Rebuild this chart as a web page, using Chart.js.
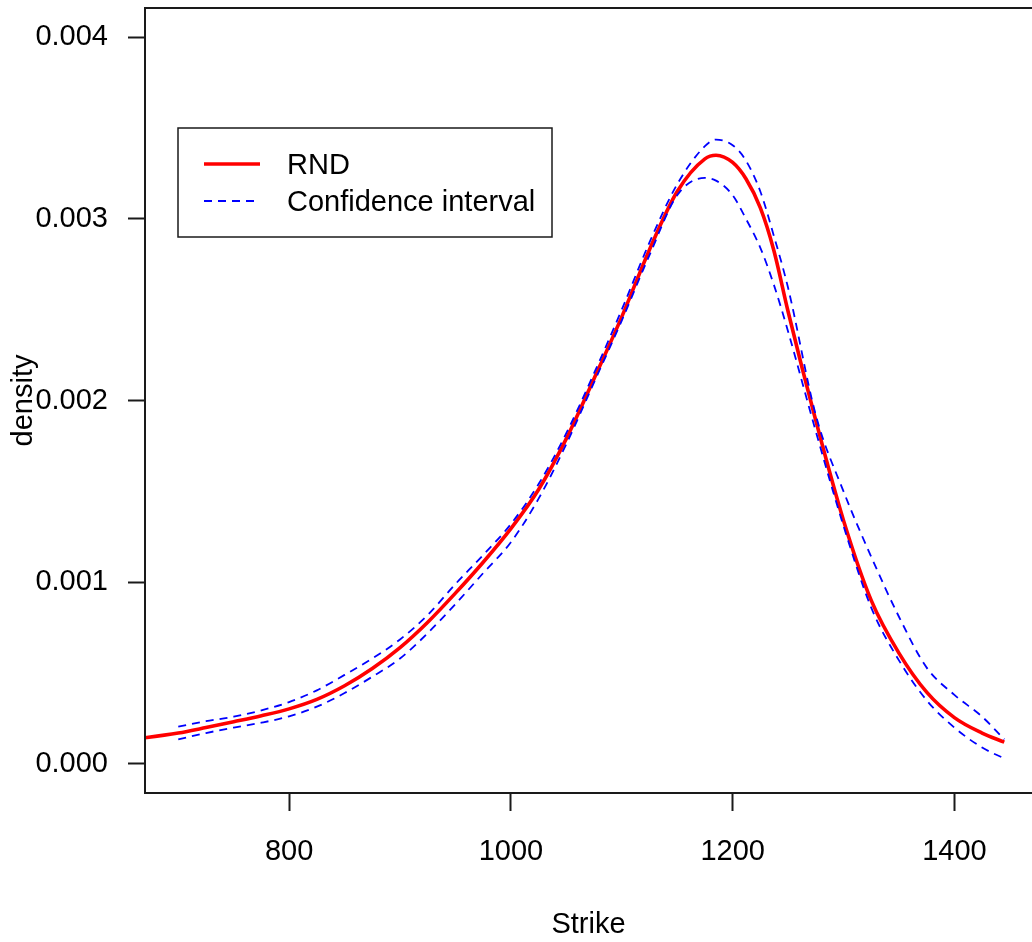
<!DOCTYPE html>
<html>
<head>
<meta charset="utf-8">
<title>RND</title>
<script src="https://cdn.jsdelivr.net/npm/chart.js@4.4.1/dist/chart.umd.min.js"></script>
<style>
  html, body { margin: 0; padding: 0; background: #fff; overflow: hidden; }
  canvas { display: block; }
</style>
</head>
<body>
<canvas id="jsDensityCanvas" width="1032" height="942"></canvas>
<script>
// strike grid and estimated densities
const strikes = [650, 700, 725, 750, 775, 800, 825, 850, 875, 900, 925, 950, 975, 1000, 1025, 1050, 1075, 1100, 1125, 1150, 1175, 1185, 1200, 1212, 1225, 1237, 1250, 1275, 1300, 1325, 1350, 1375, 1400, 1425, 1445];
const rnd = [0.000128, 0.00017, 0.0002, 0.000232, 0.000265, 0.000303, 0.000355, 0.00043, 0.000525, 0.00064, 0.00078, 0.00094, 0.00111, 0.001295, 0.00151, 0.00179, 0.00212, 0.00246, 0.00283, 0.00315, 0.00333, 0.00335, 0.00331, 0.00322, 0.00306, 0.00283, 0.00249, 0.00189, 0.00134, 0.0009, 0.00061, 0.000395, 0.000255, 0.00017, 0.00012];
const ciUpper = [null, 0.000205, 0.000235, 0.00026, 0.000295, 0.00034, 0.000405, 0.00049, 0.00058, 0.000685, 0.00082, 0.00099, 0.00115, 0.00132, 0.00154, 0.00182, 0.00215, 0.0025, 0.00287, 0.00319, 0.0034, 0.003436, 0.003405, 0.00332, 0.00315, 0.00291, 0.00262, 0.00192, 0.0015, 0.00114, 0.00081, 0.00053, 0.00038, 0.00026, 0.000135];
const ciLower = [null, 0.000135, 0.00017, 0.0002, 0.000227, 0.000262, 0.000315, 0.00039, 0.00048, 0.00058, 0.00072, 0.00088, 0.00105, 0.00122, 0.00146, 0.00176, 0.0021, 0.00244, 0.0028, 0.00313, 0.003225, 0.00321, 0.00313, 0.003, 0.00284, 0.00264, 0.00238, 0.00183, 0.00131, 0.00086, 0.00057, 0.00035, 0.0002, 0.00009, 0.00003];

const xTicks = [800, 1000, 1200, 1400];
const yTicks = [0, 0.001, 0.002, 0.003, 0.004];
const legendLabels = ["RND", "Confidence interval"];

const FONT = "'Liberation Sans', Arial, sans-serif";
const toPoints = (ys) => strikes.map((x, i) => ({ x: x, y: ys[i] }));

// frame around the plot region (right side runs off the canvas)
const frameBox = {
  id: "frameBox",
  afterDatasetsDraw(chart) {
    const { ctx, chartArea: a } = chart;
    ctx.save();
    ctx.strokeStyle = "#1a1a1a";
    ctx.lineWidth = 2;
    ctx.beginPath();
    ctx.moveTo(chart.width, a.top);
    ctx.lineTo(a.left, a.top);
    ctx.lineTo(a.left, a.bottom);
    ctx.lineTo(chart.width, a.bottom);
    ctx.stroke();
    ctx.restore();
  },
};

// boxed legend in the upper left of the plot
const boxLegend = {
  id: "boxLegend",
  afterDraw(chart) {
    const { ctx, chartArea: a } = chart;
    const red = chart.data.datasets[2];
    const blue = chart.data.datasets[0];
    const x0 = a.left + 33;
    const y0 = a.top + 120;
    ctx.save();
    ctx.fillStyle = "#fff";
    ctx.fillRect(x0, y0, 374, 109);
    ctx.strokeStyle = "#1a1a1a";
    ctx.lineWidth = 1.5;
    ctx.strokeRect(x0, y0, 374, 109);

    const rows = [
      { ds: red, y: y0 + 36 },
      { ds: blue, y: y0 + 73 },
    ];
    rows.forEach((row, i) => {
      ctx.strokeStyle = row.ds.borderColor;
      ctx.lineWidth = row.ds.borderWidth;
      ctx.setLineDash(row.ds.borderDash || []);
      ctx.beginPath();
      ctx.moveTo(x0 + 26, row.y);
      ctx.lineTo(x0 + 82, row.y);
      ctx.stroke();
      ctx.setLineDash([]);
      ctx.fillStyle = "#000";
      ctx.font = "29px " + FONT;
      ctx.textBaseline = "middle";
      ctx.textAlign = "left";
      ctx.fillText(legendLabels[i], x0 + 109, row.y + 2);
    });
    ctx.restore();
  },
};

const densityChart = () => {
  const canvas = document.getElementById("jsDensityCanvas").getContext("2d");

  new Chart(canvas, {
    type: "line",
    data: {
      datasets: [
        {
          label: "Upper",
          data: toPoints(ciUpper),
          borderColor: "#0000ff",
          borderWidth: 1.8,
          borderDash: [8, 6],
          pointRadius: 0,
          cubicInterpolationMode: "monotone",
          fill: false,
        },
        {
          label: "Lower",
          data: toPoints(ciLower),
          borderColor: "#0000ff",
          borderWidth: 1.8,
          borderDash: [8, 6],
          pointRadius: 0,
          cubicInterpolationMode: "monotone",
          fill: false,
        },
        {
          label: "RND",
          data: toPoints(rnd),
          borderColor: "#ff0000",
          borderWidth: 3.6,
          pointRadius: 0,
          cubicInterpolationMode: "monotone",
          clip: 0,
          fill: false,
        },
      ],
    },
    options: {
      responsive: false,
      animation: false,
      devicePixelRatio: 1,
      layout: {
        padding: { top: 8, left: 0, right: 0, bottom: 0 },
      },
      plugins: {
        legend: { display: false },
        tooltip: { enabled: false },
      },
      scales: {
        x: {
          type: "linear",
          min: 670,
          max: 1470,
          afterBuildTicks: (scale) => {
            scale.ticks = xTicks.map((v) => ({ value: v }));
          },
          afterFit: (scale) => {
            scale.height = 149;
            scale.paddingLeft = 0;
            scale.paddingRight = 0;
          },
          border: { display: false },
          grid: {
            drawOnChartArea: false,
            drawTicks: true,
            tickLength: 18,
            tickWidth: 2,
            tickColor: "#1a1a1a",
          },
          ticks: {
            color: "#000",
            padding: 24,
            maxRotation: 0,
            font: { family: FONT, size: 29, lineHeight: 1.2 },
            callback: (value) => String(value),
          },
          title: {
            display: true,
            text: "Strike",
            color: "#000",
            padding: { top: 0, bottom: 0 },
            font: { family: FONT, size: 29, lineHeight: 1.2 },
          },
        },
        y: {
          type: "linear",
          min: -0.00016,
          max: 0.00416,
          afterBuildTicks: (scale) => {
            scale.ticks = yTicks.map((v) => ({ value: v }));
          },
          afterFit: (scale) => {
            scale.width = 145;
            scale.paddingTop = 0;
            scale.paddingBottom = 0;
          },
          border: { display: false },
          grid: {
            drawOnChartArea: false,
            drawTicks: true,
            tickLength: 17,
            tickWidth: 2,
            tickColor: "#1a1a1a",
          },
          ticks: {
            color: "#000",
            padding: 20,
            font: { family: FONT, size: 29, lineHeight: 1.2 },
            callback: (value) => value.toFixed(3),
          },
          title: {
            display: true,
            text: "density",
            color: "#000",
            padding: { top: 7, bottom: 0 },
            font: { family: FONT, size: 29, lineHeight: 1.2 },
          },
        },
      },
    },
    plugins: [frameBox, boxLegend],
  });
};

window.addEventListener("DOMContentLoaded", () => {
  densityChart();
});
</script>
</body>
</html>
